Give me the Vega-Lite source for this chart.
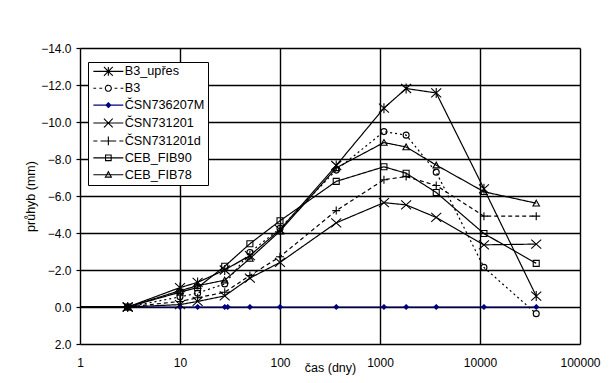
{
  "$schema": "https://vega.github.io/schema/vega-lite/v6.json",
  "width": 500,
  "height": 296,
  "autosize": {"type": "none"},
  "padding": {"left": 80, "top": 48, "right": 29, "bottom": 39},
  "background": "white",
  "config": {
    "font": "Liberation Sans",
    "view": {"stroke": null},
    "axis": {"labelFont": "Liberation Sans", "titleFont": "Liberation Sans", "labelColor": "#000", "titleColor": "#000", "labelFontSize": 12, "titleFontSize": 12.5, "titleFontWeight": "normal", "gridColor": "#000000", "gridOpacity": 1, "gridWidth": 1.4, "domain": false}
  },
  "data": {"values": [
    {"s": "ČSN736207M", "t": 1, "v": 0}, {"s": "ČSN736207M", "t": 3, "v": 0}, {"s": "ČSN736207M", "t": 10, "v": 0}, {"s": "ČSN736207M", "t": 15, "v": 0}, {"s": "ČSN736207M", "t": 28, "v": 0}, {"s": "ČSN736207M", "t": 30, "v": 0}, {"s": "ČSN736207M", "t": 50, "v": 0}, {"s": "ČSN736207M", "t": 100, "v": 0}, {"s": "ČSN736207M", "t": 365, "v": 0}, {"s": "ČSN736207M", "t": 1095, "v": 0}, {"s": "ČSN736207M", "t": 1825, "v": 0}, {"s": "ČSN736207M", "t": 3650, "v": 0}, {"s": "ČSN736207M", "t": 10950, "v": 0}, {"s": "ČSN736207M", "t": 36500, "v": 0},
    {"s": "B3", "t": 1, "v": 0}, {"s": "B3", "t": 3, "v": 0}, {"s": "B3", "t": 10, "v": -0.55}, {"s": "B3", "t": 15, "v": -0.75}, {"s": "B3", "t": 28, "v": -1.25}, {"s": "B3", "t": 50, "v": -2.95}, {"s": "B3", "t": 100, "v": -4.25}, {"s": "B3", "t": 365, "v": -7.4}, {"s": "B3", "t": 1095, "v": -9.48}, {"s": "B3", "t": 1825, "v": -9.29}, {"s": "B3", "t": 3650, "v": -7.29}, {"s": "B3", "t": 10950, "v": -2.14}, {"s": "B3", "t": 36500, "v": 0.36},
    {"s": "ČSN731201d", "t": 1, "v": 0}, {"s": "ČSN731201d", "t": 3, "v": 0}, {"s": "ČSN731201d", "t": 10, "v": -0.3}, {"s": "ČSN731201d", "t": 15, "v": -0.5}, {"s": "ČSN731201d", "t": 28, "v": -0.8}, {"s": "ČSN731201d", "t": 50, "v": -1.7}, {"s": "ČSN731201d", "t": 100, "v": -2.72}, {"s": "ČSN731201d", "t": 365, "v": -5.21}, {"s": "ČSN731201d", "t": 1095, "v": -6.88}, {"s": "ČSN731201d", "t": 1825, "v": -7.05}, {"s": "ČSN731201d", "t": 3650, "v": -6.57}, {"s": "ČSN731201d", "t": 10950, "v": -4.91}, {"s": "ČSN731201d", "t": 36500, "v": -4.91},
    {"s": "ČSN731201", "t": 1, "v": 0}, {"s": "ČSN731201", "t": 3, "v": 0}, {"s": "ČSN731201", "t": 10, "v": -0.13}, {"s": "ČSN731201", "t": 15, "v": -0.3}, {"s": "ČSN731201", "t": 28, "v": -0.6}, {"s": "ČSN731201", "t": 50, "v": -1.56}, {"s": "ČSN731201", "t": 100, "v": -2.41}, {"s": "ČSN731201", "t": 365, "v": -4.55}, {"s": "ČSN731201", "t": 1095, "v": -5.64}, {"s": "ČSN731201", "t": 1825, "v": -5.52}, {"s": "ČSN731201", "t": 3650, "v": -4.84}, {"s": "ČSN731201", "t": 10950, "v": -3.36}, {"s": "ČSN731201", "t": 36500, "v": -3.4},
    {"s": "CEB_FIB90", "t": 1, "v": 0}, {"s": "CEB_FIB90", "t": 3, "v": 0}, {"s": "CEB_FIB90", "t": 10, "v": -0.8}, {"s": "CEB_FIB90", "t": 15, "v": -1.05}, {"s": "CEB_FIB90", "t": 28, "v": -2.2}, {"s": "CEB_FIB90", "t": 50, "v": -3.42}, {"s": "CEB_FIB90", "t": 100, "v": -4.66}, {"s": "CEB_FIB90", "t": 365, "v": -6.79}, {"s": "CEB_FIB90", "t": 1095, "v": -7.58}, {"s": "CEB_FIB90", "t": 1825, "v": -7.23}, {"s": "CEB_FIB90", "t": 3650, "v": -6.19}, {"s": "CEB_FIB90", "t": 10950, "v": -3.97}, {"s": "CEB_FIB90", "t": 36500, "v": -2.36},
    {"s": "CEB_FIB78", "t": 1, "v": 0}, {"s": "CEB_FIB78", "t": 3, "v": 0}, {"s": "CEB_FIB78", "t": 10, "v": -0.88}, {"s": "CEB_FIB78", "t": 15, "v": -1.15}, {"s": "CEB_FIB78", "t": 28, "v": -1.45}, {"s": "CEB_FIB78", "t": 50, "v": -2.62}, {"s": "CEB_FIB78", "t": 100, "v": -4.1}, {"s": "CEB_FIB78", "t": 365, "v": -7.52}, {"s": "CEB_FIB78", "t": 1095, "v": -8.89}, {"s": "CEB_FIB78", "t": 1825, "v": -8.65}, {"s": "CEB_FIB78", "t": 3650, "v": -7.67}, {"s": "CEB_FIB78", "t": 10950, "v": -6.23}, {"s": "CEB_FIB78", "t": 36500, "v": -5.61},
    {"s": "B3_upřes", "t": 1, "v": 0}, {"s": "B3_upřes", "t": 3, "v": 0}, {"s": "B3_upřes", "t": 10, "v": -1.05}, {"s": "B3_upřes", "t": 15, "v": -1.33}, {"s": "B3_upřes", "t": 28, "v": -2.0}, {"s": "B3_upřes", "t": 50, "v": -2.78}, {"s": "B3_upřes", "t": 100, "v": -4.18}, {"s": "B3_upřes", "t": 365, "v": -7.65}, {"s": "B3_upřes", "t": 1095, "v": -10.75}, {"s": "B3_upřes", "t": 1825, "v": -11.81}, {"s": "B3_upřes", "t": 3650, "v": -11.57}, {"s": "B3_upřes", "t": 10950, "v": -6.39}, {"s": "B3_upřes", "t": 36500, "v": -0.59}
  ]},
  "encoding": {
    "x": {"field": "t", "type": "quantitative", "scale": {"type": "log", "domain": [1, 100000], "nice": false},
      "axis": {"title": "čas (dny)", "values": [1, 10, 100, 1000, 10000, 100000], "format": "d", "ticks": false, "tickSize": 0, "labelPadding": 13.5, "titlePadding": -7.5, "labelFlush": false, "labelOverlap": false, "grid": true, "gridColor": "#000000", "gridOpacity": 1, "gridWidth": 1.4}},
    "y": {"field": "v", "type": "quantitative", "scale": {"domain": [-14, 2], "reverse": true, "nice": false, "zero": false},
      "axis": {"title": "průhyb (mm)", "values": [-14, -12, -10, -8, -6, -4, -2, 0, 2], "labelExpr": "replace(format(datum.value, '.1f'), '-', '−')", "tickSize": 4, "tickColor": "#000", "tickWidth": 1.2, "labelPadding": 5, "titlePadding": 3, "grid": true, "gridColor": "#000000", "gridOpacity": 1, "gridWidth": 1.4}}
  },
  "layer": [
    {
      "mark": {"type": "line", "strokeWidth": 1.2},
      "encoding": {
        "stroke": {"field": "s", "type": "nominal",
          "scale": {"domain": ["B3_upřes", "B3", "ČSN736207M", "ČSN731201", "ČSN731201d", "CEB_FIB90", "CEB_FIB78"], "range": ["#000", "#000", "#000080", "#000", "#000", "#000", "#000"]},
          "legend": {"title": null, "orient": "none", "legendX": 8, "legendY": 14, "symbolSize": 64, "symbolStrokeWidth": 1.1, "labelOffset": 21, "padding": 3, "rowPadding": 2.9, "strokeColor": "#000", "fillColor": "white", "labelFont": "Liberation Sans", "labelFontSize": 12.7, "labelColor": "#000",
            "encoding": {"symbols": {
              "shape": {"value": {"expr": "datum.value === 'B3_upřes' ? 'M-1,0H6.5M1.65,-1.1L3.85,1.1M1.65,1.1L3.85,-1.1M2.75,-1.1V1.1' : datum.value === 'B3' ? 'M-1,0H-0.3M0.5,0H1.2M4.3,0H5M5.8,0H6.5M3.5,0A0.75,0.75 0 1,1 2,0A0.75,0.75 0 1,1 3.5,0Z' : datum.value === 'ČSN736207M' ? 'M-1,0H6.5M2.75,-0.6L3.35,0L2.75,0.6L2.15,0Z' : datum.value === 'ČSN731201' ? 'M-1,0H6.5M1.65,-1.1L3.85,1.1M1.65,1.1L3.85,-1.1' : datum.value === 'ČSN731201d' ? 'M-1,0H0M0.8,0H1.8M3.7,0H4.7M5.5,0H6.5M1.65,0H3.85M2.75,-1.1V1.1' : datum.value === 'CEB_FIB90' ? 'M-1,0H6.5M2.05,-0.7H3.45V0.7H2.05Z' : 'M-1,0H6.5M2.75,-0.75L3.5,0.6H2Z'"}},
              "fill": {"value": {"expr": "datum.value === 'ČSN736207M' ? '#000080' : 'transparent'"}},
              "strokeDash": {"value": [1, 0]}
            }}
          }},
        "strokeDash": {"field": "s", "type": "nominal", "legend": null,
          "scale": {"domain": ["CEB_FIB78", "CEB_FIB90", "ČSN731201d", "ČSN731201", "ČSN736207M", "B3", "B3_upřes"], "range": [[1, 0], [1, 0], [4, 3], [1, 0], [1, 0], [2, 3], [1, 0]]}}
      }
    },
    {
      "transform": [{"filter": "datum.t > 1"}],
      "mark": {"type": "point", "size": 100, "strokeWidth": 1.1, "opacity": 1},
      "encoding": {
        "stroke": {"field": "s", "type": "nominal"},
        "shape": {"field": "s", "type": "nominal", "legend": null,
          "scale": {"domain": ["CEB_FIB78", "CEB_FIB90", "ČSN731201d", "ČSN731201", "ČSN736207M", "B3", "B3_upřes"], "range": ["M0,-0.6L0.65,0.55H-0.65Z", "M-0.6,-0.6H0.6V0.6H-0.6Z", "M-0.8,0H0.8M0,-0.8V0.8", "M-1,-0.9L1,0.9M-1,0.9L1,-0.9", "M0,-0.45L0.45,0L0,0.45L-0.45,0Z", "M0.6,0A0.6,0.6 0 1,1 -0.6,0A0.6,0.6 0 1,1 0.6,0Z", "M-1,-0.9L1,0.9M-1,0.9L1,-0.9M0,-1V1"]}},
        "fill": {"field": "s", "type": "nominal", "legend": null,
          "scale": {"domain": ["CEB_FIB78", "CEB_FIB90", "ČSN731201d", "ČSN731201", "ČSN736207M", "B3", "B3_upřes"], "range": ["transparent", "transparent", "transparent", "transparent", "#000080", "transparent", "transparent"]}}
      }
    }
  ]
}
